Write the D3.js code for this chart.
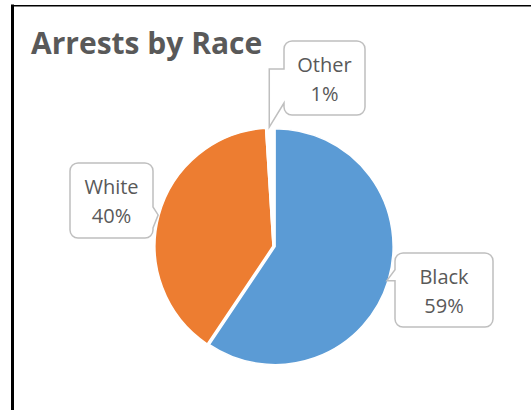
<!DOCTYPE html>
<html>
<head>
  <meta charset="utf-8">
  <title>Arrests by Race</title>
  <script src="https://d3js.org/d3.v7.min.js"></script>
  <style>
    body { margin: 0; background: white; }
    text { font-family: "Open Sans", "Liberation Sans", sans-serif; fill: #595959; }
  </style>
</head>
<body>
<div id="container"></div>
<script>
  // data
  var categories = ["Black", "White", "Other"];
  var values = [59.4, 39.6, 1.0];
  var colors = ["#5B9BD5", "#ED7D31", "#FFFFFF"];

  const width = 531,
    height = 410;
  var cx = 273, cy = 246, radius = 118;

  // callout boxes (layout only)
  var boxes = {
    Black: { x: 395, y: 253, w: 98, h: 74, side: "left" },
    White: { x: 70, y: 163, w: 83, h: 75, side: "right" },
    Other: { x: 284, y: 41, w: 81, h: 74, side: "left" }
  };

  var svg = d3.select("#container")
    .append("svg")
    .attr("width", width)
    .attr("height", height)
    .style("display", "block")
    .style("background-color", "white");

  // frame
  svg.append("line")
    .attr("x1", 12.5).attr("y1", 4.5).attr("x2", 12.5).attr("y2", height)
    .attr("stroke", "black").attr("stroke-width", 3);
  svg.append("line")
    .attr("x1", 11).attr("y1", 5.7).attr("x2", width).attr("y2", 5.7)
    .attr("stroke", "black").attr("stroke-width", 1.5);

  svg.append("text")
    .attr("x", 31)
    .attr("y", 54)
    .style("font-size", "30px")
    .style("font-weight", "bold")
    .text("Arrests by Race");

  var pie = d3.pie().sort(null).value(function(d){ return d; });
  var slices = pie(values);

  var arc = d3.arc().innerRadius(0).outerRadius(radius);
  var explode = [2.2, 0, 0];

  var g = svg.append("g").attr("transform", "translate(" + cx + "," + cy + ")");

  g.selectAll("path")
    .data(slices)
    .enter()
    .append("path")
    .attr("d", arc)
    .attr("transform", function(d, i){
      var a = (d.startAngle + d.endAngle) / 2;
      return "translate(" + (Math.sin(a) * explode[i]) + "," + (-Math.cos(a) * explode[i]) + ")";
    })
    .attr("fill", function(d, i){ return colors[i]; })
    .attr("stroke", "white")
    .attr("stroke-width", 1.5);

  function tipOf(d) {
    var a = (d.startAngle + d.endAngle) / 2;
    return [cx + Math.sin(a) * (radius + 1), cy - Math.cos(a) * (radius + 1)];
  }

  // rounded box with a pointer going out to the slice
  function calloutPath(b, pts) {
    var r = 8, x = b.x, y = b.y, w = b.w, h = b.h;
    var p = d3.path();
    p.moveTo(x + r, y);
    p.lineTo(x + w - r, y);
    p.arcTo(x + w, y, x + w, y + r, r);
    if (b.side === "right") pts.forEach(function(q){ p.lineTo(q[0], q[1]); });
    p.lineTo(x + w, y + h - r);
    p.arcTo(x + w, y + h, x + w - r, y + h, r);
    p.lineTo(x + r, y + h);
    p.arcTo(x, y + h, x, y + h - r, r);
    if (b.side === "left") pts.forEach(function(q){ p.lineTo(q[0], q[1]); });
    p.lineTo(x, y + r);
    p.arcTo(x, y, x + r, y, r);
    p.closePath();
    return p.toString();
  }

  slices.forEach(function(d, i){
    var name = categories[i];
    var b = boxes[name];
    var t = tipOf(d);
    var pts;
    if (name === "Other") {
      pts = [[b.x, b.y + 62], [t[0], t[1]], [t[0], b.y + 28], [b.x, b.y + 28]];
    } else if (name === "Black") {
      pts = [[b.x, t[1]], [t[0], t[1]], [b.x, t[1] - 11]];
    } else {
      pts = [[b.x + b.w, b.y + 44], [t[0], t[1]], [b.x + b.w, b.y + 65]];
    }
    svg.append("path")
      .attr("d", calloutPath(b, pts))
      .attr("fill", "white")
      .attr("stroke", "#BFBFBF")
      .attr("stroke-width", 1.5);

    var lab = svg.append("text")
      .attr("text-anchor", "middle")
      .style("font-size", "20px");
    lab.append("tspan")
      .attr("x", b.x + b.w / 2)
      .attr("y", b.y + 31)
      .text(name);
    lab.append("tspan")
      .attr("x", b.x + b.w / 2)
      .attr("y", b.y + 60)
      .text(Math.round(values[i]) + "%");
  });
</script>
</body>
</html>
